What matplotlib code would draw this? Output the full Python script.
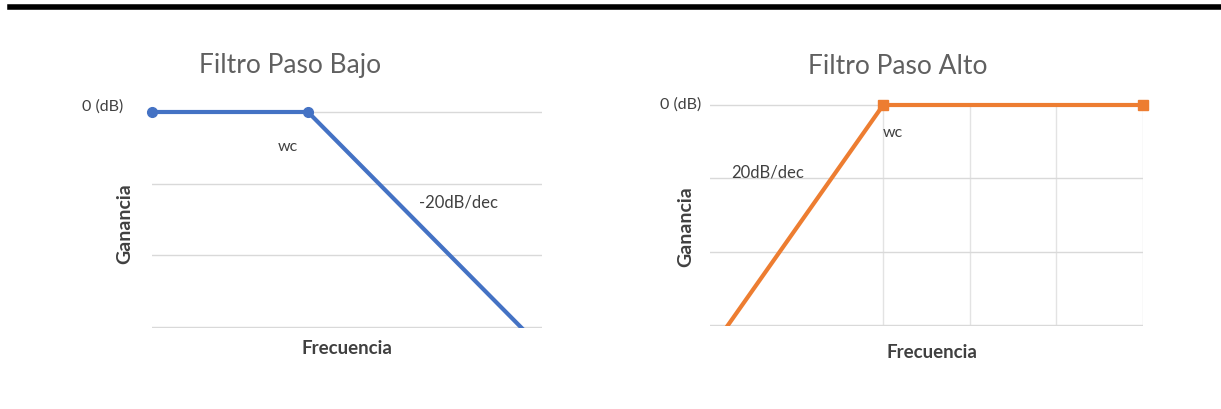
import matplotlib
matplotlib.use("Agg")
import matplotlib.pyplot as plt
from matplotlib.lines import Line2D

plt.rcParams['font.family'] = ['Lato', 'DejaVu Sans']

# data (grid units: x = frequency steps, y = gain steps)
freq = [0, 2, 5]
lowpass_gain = [0, 0, -3.3]
highpass_gain = [-3.35, 0, 0]

W, H = 1221, 409
fig = plt.figure(figsize=(W / 100, H / 100), dpi=100)

# thick black rule across the top
fig.add_artist(Line2D([10 / W, 1.0], [1 - 6.5 / H, 1 - 6.5 / H], color='black', lw=4))

YLO, YHI = -3.02, 0.1


def px_axes(x0, y0, x1, y1):
    # y0 / y1 are the pixel rows of gain 0 and gain -3
    unit = (y1 - y0) / 3.0
    top = y0 - YHI * unit
    bot = y1 + (-3 - YLO) * unit
    return fig.add_axes([x0 / W, 1 - bot / H, (x1 - x0) / W, (bot - top) / H])


def style(ax, vticks):
    ax.set_xlim(0, 5)
    ax.set_ylim(YLO, YHI)
    ax.set_yticks([0, -1, -2, -3])
    ax.set_xticks([])
    ax.grid(axis='y', color='#d9d9d9', lw=1)
    if vticks:
        ax.vlines(vticks, -3, 0, color='#e3e3e3', lw=1, zorder=0)
    ax.tick_params(left=False, bottom=False, labelleft=False, labelbottom=False)
    for s in ax.spines.values():
        s.set_visible(False)
    ax.set_axisbelow(True)


txt = '#404040'

# ---- low pass ----
ax1 = px_axes(152, 112, 542, 327)
style(ax1, [])
ax1.plot(freq, lowpass_gain, color='#4472C4', lw=3, solid_capstyle='butt')
ax1.plot(freq[:2], lowpass_gain[:2], ls='none', marker='o', ms=7,
         color='#4472C4', clip_on=False)

fig.text(290 / W, 1 - 66 / H, 'Filtro Paso Bajo', ha='center', va='center',
         fontsize=19, color='#606060')
fig.text(103 / W, 1 - 107 / H, '0 (dB)', ha='center', va='center', fontsize=11.5, color=txt)
fig.text(125 / W, 1 - 224 / H, 'Ganancia', ha='center', va='center', rotation=90,
         fontsize=14, fontweight='bold', color=txt)
fig.text(288 / W, 1 - 147 / H, 'wc', ha='center', va='center', fontsize=11.5, color=txt)
fig.text(458 / W, 1 - 203 / H, '-20dB/dec', ha='center', va='center', fontsize=12, color=txt)
fig.text(347 / W, 1 - 348 / H, 'Frecuencia', ha='center', va='center',
         fontsize=13.5, fontweight='bold', color=txt)

# ---- high pass ----
ax2 = px_axes(710, 105, 1143, 325)
style(ax2, [2, 3, 4, 5])
ax2.plot(freq, highpass_gain, color='#ED7D31', lw=3, solid_capstyle='butt')
ax2.plot(freq[1:], highpass_gain[1:], ls='none', marker='s', ms=7,
         color='#ED7D31', clip_on=False)

fig.text(898 / W, 1 - 67 / H, 'Filtro Paso Alto', ha='center', va='center',
         fontsize=19, color='#606060')
fig.text(681 / W, 1 - 105 / H, '0 (dB)', ha='center', va='center', fontsize=11.5, color=txt)
fig.text(686 / W, 1 - 227 / H, 'Ganancia', ha='center', va='center', rotation=90,
         fontsize=14, fontweight='bold', color=txt)
fig.text(893 / W, 1 - 133 / H, 'wc', ha='center', va='center', fontsize=11.5, color=txt)
fig.text(768 / W, 1 - 173 / H, '20dB/dec', ha='center', va='center', fontsize=12, color=txt)
fig.text(932 / W, 1 - 353 / H, 'Frecuencia', ha='center', va='center',
         fontsize=13.5, fontweight='bold', color=txt)

fig.savefig('out.png', dpi=100)
